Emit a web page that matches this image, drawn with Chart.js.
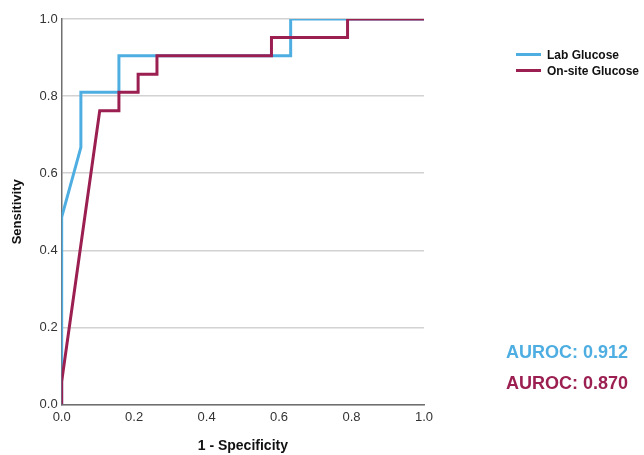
<!DOCTYPE html>
<html>
<head>
<meta charset="utf-8">
<script src="https://cdn.jsdelivr.net/npm/chart.js@4/dist/chart.umd.min.js"></script>
<style>
  body { margin: 0; background: #fff; }
  #wrap { position: relative; width: 644px; height: 455px; font-family: "Liberation Sans", Arial, sans-serif; }
  #myChart-roc { position: absolute; left: 0; top: 0; }
  .key { position: absolute; left: 516px; height: 16px; font-weight: bold; font-size: 12px; color: #111; white-space: nowrap; }
  .key span { display: inline-block; width: 25px; height: 3px; vertical-align: middle; margin-right: 6px; position: relative; top: -1px; }
  .auroc { position: absolute; left: 506px; font-weight: bold; font-size: 18px; white-space: nowrap; line-height: 20px; }
</style>
</head>
<body>
<div id="wrap">
  <canvas id="myChart-roc" width="644" height="455"></canvas>
  <div class="key" style="top:48px"><span style="background:#4eaee2"></span>Lab Glucose</div>
  <div class="key" style="top:64px"><span style="background:#9c1f52"></span>On-site Glucose</div>
  <div class="auroc" style="top:342px;color:#4eaee2">AUROC: 0.912</div>
  <div class="auroc" style="top:373px;color:#9c1f52">AUROC: 0.870</div>
</div>
<script>
// ROC curves, 1 - specificity (x) against sensitivity (y)
var labX = [0, 0, 0.053, 0.053, 0.158, 0.158, 0.632, 0.632, 1];
var labY = [0, 0.486, 0.667, 0.81, 0.81, 0.905, 0.905, 1, 1];

var onsiteX = [0, 0, 0.105, 0.158, 0.158, 0.211, 0.211, 0.263, 0.263, 0.579, 0.579, 0.789, 0.789, 1];
var onsiteY = [0, 0.06, 0.762, 0.762, 0.81, 0.81, 0.857, 0.857, 0.905, 0.905, 0.952, 0.952, 1, 1];

var ticks = [0, 0.2, 0.4, 0.6, 0.8, 1];

function points(xs, ys) {
    return xs.map(function (x, i) { return { x: x, y: ys[i] }; });
}

var ctx = document.getElementById('myChart-roc');

new Chart(ctx, {
    type: 'scatter',
    data: {
        datasets: [
            {
                label: 'Lab Glucose',
                data: points(labX, labY),
                showLine: true,
                borderColor: '#4eaee2',
                borderWidth: 3,
                pointRadius: 0,
                tension: 0,
                order: 1
            },
            {
                label: 'On-site Glucose',
                data: points(onsiteX, onsiteY),
                showLine: true,
                borderColor: '#9c1f52',
                borderWidth: 3,
                pointRadius: 0,
                tension: 0,
                order: 0
            }
        ]
    },
    options: {
        responsive: false,
        animation: false,
        layout: { padding: { top: 19, right: 220, bottom: 0, left: 10 } },
        plugins: {
            legend: { display: false },
            tooltip: { enabled: false }
        },
        scales: {
            x: {
                type: 'linear',
                min: 0,
                max: 1,
                afterBuildTicks: function (s) { s.ticks = ticks.map(function (v) { return { value: v }; }); },
                ticks: {
                    padding: 5,
                    color: '#333',
                    font: { family: 'Liberation Sans', size: 13 },
                    callback: function (v) { return v.toFixed(1); }
                },
                grid: { display: false, drawTicks: false },
                border: { color: '#6f6f6f', width: 1.5 },
                title: {
                    display: true,
                    text: '1 - Specificity',
                    color: '#111',
                    font: { family: 'Liberation Sans', size: 14, weight: 'bold' },
                    padding: { top: 8, bottom: 0 }
                }
            },
            y: {
                type: 'linear',
                min: 0,
                max: 1,
                afterBuildTicks: function (s) { s.ticks = ticks.map(function (v) { return { value: v }; }); },
                ticks: {
                    padding: 4,
                    color: '#333',
                    font: { family: 'Liberation Sans', size: 13 },
                    callback: function (v) { return v.toFixed(1); }
                },
                grid: { color: '#d2d2d2', lineWidth: 1.5, drawTicks: false },
                border: { color: '#6f6f6f', width: 1.5 },
                title: {
                    display: true,
                    text: 'Sensitivity',
                    color: '#111',
                    font: { family: 'Liberation Sans', size: 13, weight: 'bold' },
                    padding: { top: 0, bottom: 10 }
                }
            }
        }
    }
});
</script>
</body>
</html>
